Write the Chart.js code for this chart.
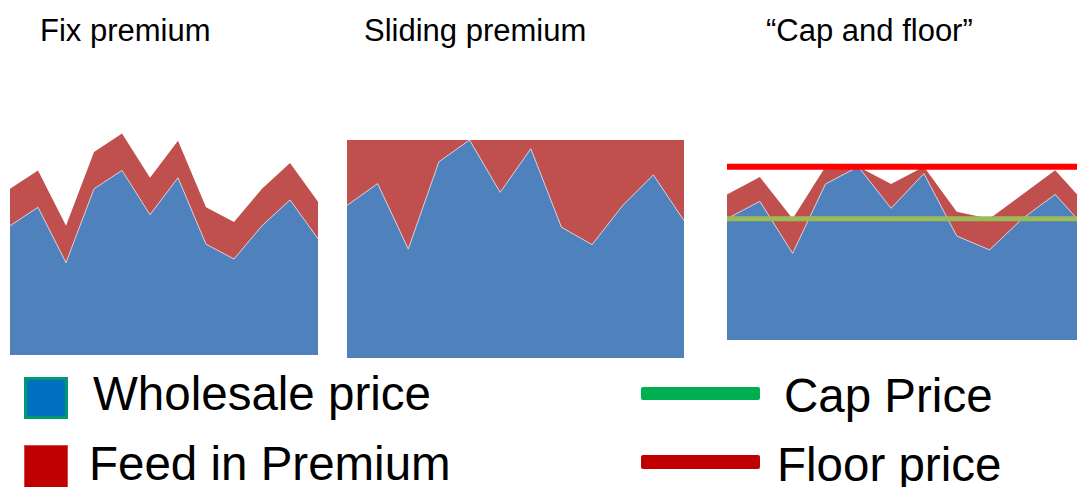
<!DOCTYPE html>
<html>
<head>
<meta charset="utf-8">
<script src="https://cdn.jsdelivr.net/npm/chart.js@4/dist/chart.umd.min.js"></script>
<style>
  html, body { margin: 0; padding: 0; background: #fff; overflow: hidden; width: 1077px; height: 487px; }
  body { position: relative; font-family: "Liberation Sans", Arial, sans-serif; color: #000; }
  canvas { position: absolute; }
  .title { position: absolute; font-size: 31px; line-height: 31px; white-space: nowrap; }
  .leg { position: absolute; font-size: 47.5px; line-height: 47.5px; white-space: nowrap; }
  .sw { position: absolute; box-sizing: border-box; }
</style>
</head>
<body>
<div class="title" style="left:40px; top:15px;">Fix premium</div>
<div class="title" style="left:364px; top:15px;">Sliding premium</div>
<div class="title" style="left:766px; top:15px;">“Cap and floor”</div>

<canvas id="fix" width="308" height="240" style="left:10px; top:115px;"></canvas>
<canvas id="sliding" width="337" height="218" style="left:347px; top:140px;"></canvas>
<canvas id="capfloor" width="361" height="208" style="left:727px; top:132px;"></canvas>

<!-- legend -->
<div class="sw" style="left:24px; top:377px; width:44px; height:42px; background:#0070C0; border:3px solid #009A6E;"></div>
<div class="leg" style="left:93px; top:370px;">Wholesale price</div>
<div class="sw" style="left:24px; top:445px; width:44px; height:44px; background:#C00000; border:1px solid #D24A4A;"></div>
<div class="leg" style="left:89px; top:440px;">Feed in Premium</div>
<div class="sw" style="left:641px; top:387px; width:119px; height:13px; background:#00B050; border-radius:2px;"></div>
<div class="leg" style="left:784px; top:372px;">Cap Price</div>
<div class="sw" style="left:641px; top:455px; width:119px; height:14px; background:#C00000; border-radius:2px;"></div>
<div class="leg" style="left:777px; top:441px;">Floor price</div>

<script>
// Twelve trading periods
const periods = ['1', '2', '3', '4', '5', '6', '7', '8', '9', '10', '11', '12'];

// Market (wholesale) price per period
const wholesale = [70, 80, 50, 90, 100, 76, 96, 60, 52, 70, 84, 63];

// Premium paid on top of the market price under each scheme
const fixPremium      = [20, 20, 20, 20, 20, 20, 20, 20, 20, 20, 20, 20];
const slidingPremium  = [30, 20, 50, 10, 0, 24, 4, 40, 48, 30, 16, 37];
const capFloorPremium = [14, 14, 20, 10, 0, 14, 4, 14, 18, 14, 14, 14];

// Price corridor of the cap-and-floor scheme
const capPrice   = [70, 70, 70, 70, 70, 70, 70, 70, 70, 70, 70, 70];
const floorPrice = [100, 100, 100, 100, 100, 100, 100, 100, 100, 100, 100, 100];

const BLUE = '#4F81BD';
const RED = '#C0504D';

function areaSets(base, premium) {
  return [
    {
      label: 'Wholesale price',
      data: base,
      backgroundColor: BLUE,
      borderColor: 'rgba(226, 214, 226, 0.85)',
      borderWidth: 1,
      fill: 'origin',
      pointRadius: 0
    },
    {
      label: 'Feed in Premium',
      data: premium,
      backgroundColor: RED,
      borderColor: RED,
      borderWidth: 0,
      fill: '-1',
      pointRadius: 0
    }
  ];
}

function panel(id, datasets, yMax) {
  return new Chart(document.getElementById(id), {
    type: 'line',
    data: { labels: periods, datasets: datasets },
    options: {
      responsive: false,
      animation: false,
      events: [],
      layout: { padding: 0 },
      elements: { line: { tension: 0 }, point: { radius: 0 } },
      plugins: {
        legend: { display: false },
        tooltip: { enabled: false },
        title: { display: false }
      },
      scales: {
        x: { display: false, offset: false },
        y: { display: false, stacked: true, min: 0, max: yMax }
      }
    }
  });
}

panel('fix', areaSets(wholesale, fixPremium), 130);
panel('sliding', areaSets(wholesale, slidingPremium), 100);
panel('capfloor', [
  {
    label: 'Floor price',
    data: floorPrice,
    stack: 'floor',
    borderColor: '#FF0000',
    borderWidth: 6,
    borderCapStyle: 'butt',
    fill: false,
    pointRadius: 0
  },
  {
    label: 'Cap Price',
    data: capPrice,
    stack: 'cap',
    borderColor: '#9BBB59',
    borderWidth: 5,
    borderCapStyle: 'butt',
    fill: false,
    pointRadius: 0
  }
].concat(areaSets(wholesale, capFloorPremium)), 120);
</script>
</body>
</html>
